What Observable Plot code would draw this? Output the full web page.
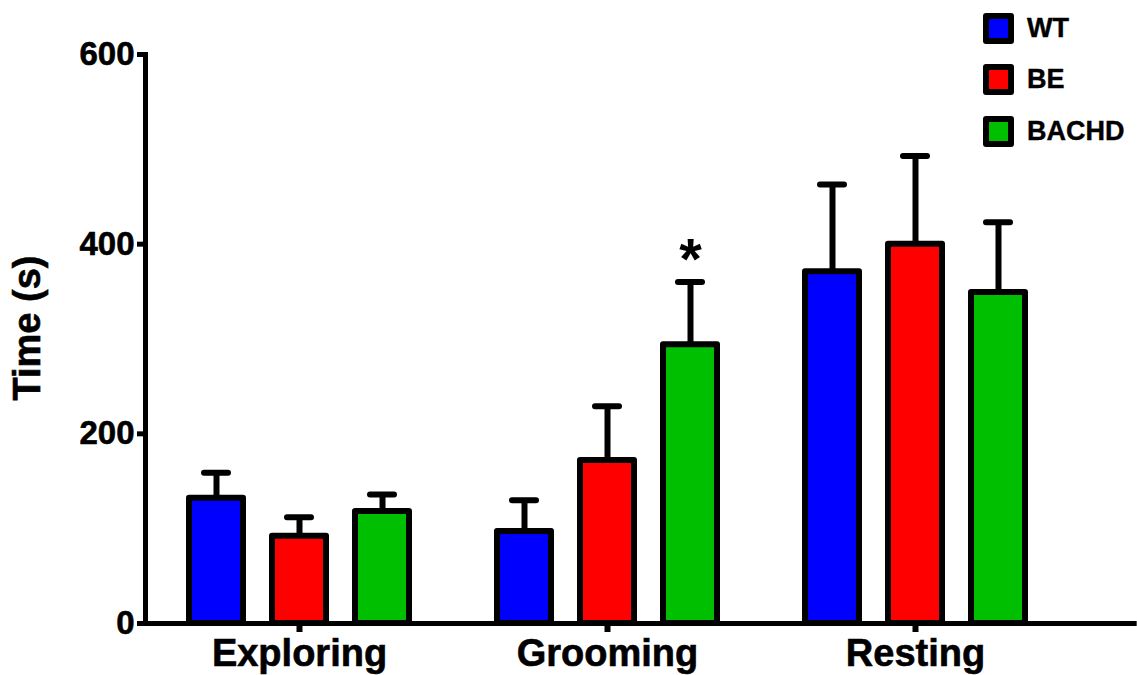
<!DOCTYPE html>
<html>
<head>
<meta charset="utf-8">
<script src="https://cdn.jsdelivr.net/npm/d3@7"></script>
<script src="https://cdn.jsdelivr.net/npm/@observablehq/plot@0.6"></script>
<style>
  html, body { margin: 0; padding: 0; background: #fff; }
  #wrap { position: relative; width: 1137px; height: 675px; font-family: "Liberation Sans", Arial, sans-serif; }
  #ylabel {
    position: absolute; left: 27px; top: 328px;
    transform: translate(-50%, -50%) rotate(-90deg);
    font-size: 38px; font-weight: bold; white-space: nowrap; color: #000;
    -webkit-text-stroke: 0.6px #000;
  }
  #legend { position: absolute; left: 983px; top: 12px; }
  .row { display: flex; align-items: center; height: 32px; margin-bottom: 19.5px; }
  .sw { width: 19px; height: 19px; border: 6px solid #000; border-radius: 3px; }
  .lab { margin-left: 13px; font-size: 27px; font-weight: bold; color: #000; -webkit-text-stroke: 0.4px #000; }
</style>
</head>
<body>
<div id="wrap">
  <div id="chart"></div>
  <div id="ylabel">Time (s)</div>
  <div id="legend"></div>
</div>
<script>
// Behaviour categories and genotype groups
const categories = ["Exploring", "Grooming", "Resting"];
const groups = ["WT", "BE", "BACHD"];
const colors = ["#0000ff", "#ff0000", "#00bf00"];

// Mean time (s) per category, one list per group
const meanWT = [132, 97, 371];
const meanBE = [92, 172, 400];
const meanBACHD = [118, 294, 349];

// Standard error (upper error bar only)
const semWT = [27, 33, 92];
const semBE = [20, 57, 93];
const semBACHD = [18, 66, 74];

// Significance markers
const starWT = ["", "", ""];
const starBE = ["", "", ""];
const starBACHD = ["", "*", ""];

const yTicks = [0, 200, 400, 600];

const means = [meanWT, meanBE, meanBACHD];
const sems = [semWT, semBE, semBACHD];
const stars = [starWT, starBE, starBACHD];

const data = categories.flatMap((c, i) =>
  groups.map((g, j) => ({
    category: c, group: g,
    mean: means[j][i], sem: sems[j][i], top: means[j][i] + sems[j][i],
    star: stars[j][i]
  }))
);

// Legend
const legend = document.getElementById("legend");
groups.forEach((g, i) => {
  const row = document.createElement("div");
  row.className = "row";
  const sw = document.createElement("div");
  sw.className = "sw";
  sw.style.background = colors[i];
  const lab = document.createElement("span");
  lab.className = "lab";
  lab.textContent = g;
  row.appendChild(sw);
  row.appendChild(lab);
  legend.appendChild(row);
});

// Layout of the facet bands: facets are packed to the left, the remaining
// outer padding is left empty on the right and the x axis line runs through it.
const W = 1137, marginLeft = 144, marginRight = 0;
const fxPadOuter = 0.1068, fxAlign = 0.02;
const fxStep = (W - marginLeft - marginRight) / (categories.length + 2 * fxPadOuter);
const fxSlack = (W - marginLeft - marginRight) - fxStep * categories.length;
const axisTail = fxSlack * (1 - fxAlign);

const chart = Plot.plot({
  width: W,
  height: 675,
  marginLeft,
  marginRight,
  marginTop: 54,
  marginBottom: 52,
  style: { fontFamily: "Liberation Sans, Arial, sans-serif", color: "#000", background: "#fff" },
  fx: { domain: categories, paddingInner: 0, paddingOuter: fxPadOuter, align: fxAlign, label: null },
  x: { domain: groups, paddingInner: 0.345, paddingOuter: 0.512, axis: null },
  y: { domain: [0, 600] },
  color: { domain: groups, range: colors },
  marks: [
    Plot.ruleX(data, { fx: "category", x: "group", y1: "mean", y2: "top", stroke: "#000", strokeWidth: 6 }),
    Plot.tickY(data, { fx: "category", x: "group", y: "top", stroke: "#000", strokeWidth: 6,
      strokeLinecap: "round", insetLeft: 15, insetRight: 15 }),
    Plot.barY(data, { fx: "category", x: "group", y: "mean", fill: "group",
      stroke: "#000", strokeWidth: 6, strokeLinejoin: "round" }),
    Plot.text(data.filter(d => d.star), { fx: "category", x: "group", y: "top", text: "star",
      fontSize: 58, fontWeight: "bold", lineAnchor: "bottom", dy: -3, fill: "#000" }),
    // axis lines spanning the whole plot (bottom = y 0, left = y axis)
    Plot.frame({ anchor: "bottom", facet: "super", stroke: "#000", strokeWidth: 5, insetRight: -axisTail }),
    Plot.frame({ anchor: "left", facet: "super", stroke: "#000", strokeWidth: 5 }),
    Plot.axisY({ ticks: yTicks, tickSize: 8, tickPadding: 3, fontSize: 33, fontWeight: "bold",
      strokeWidth: 5, label: null, style: { letterSpacing: "1.5px" } }),
    Plot.axisFx({ anchor: "bottom", tickSize: 9, tickPadding: 7, fontSize: 38, fontWeight: "bold",
      strokeWidth: 6, label: null })
  ]
});
// slightly heavier lettering for the axis texts
d3.select(chart).selectAll("g[aria-label='y-axis tick label'] text, g[aria-label='fx-axis tick label'] text")
  .attr("stroke", "#000").attr("stroke-width", 0.6);
document.getElementById("chart").appendChild(chart);
</script>
</body>
</html>
